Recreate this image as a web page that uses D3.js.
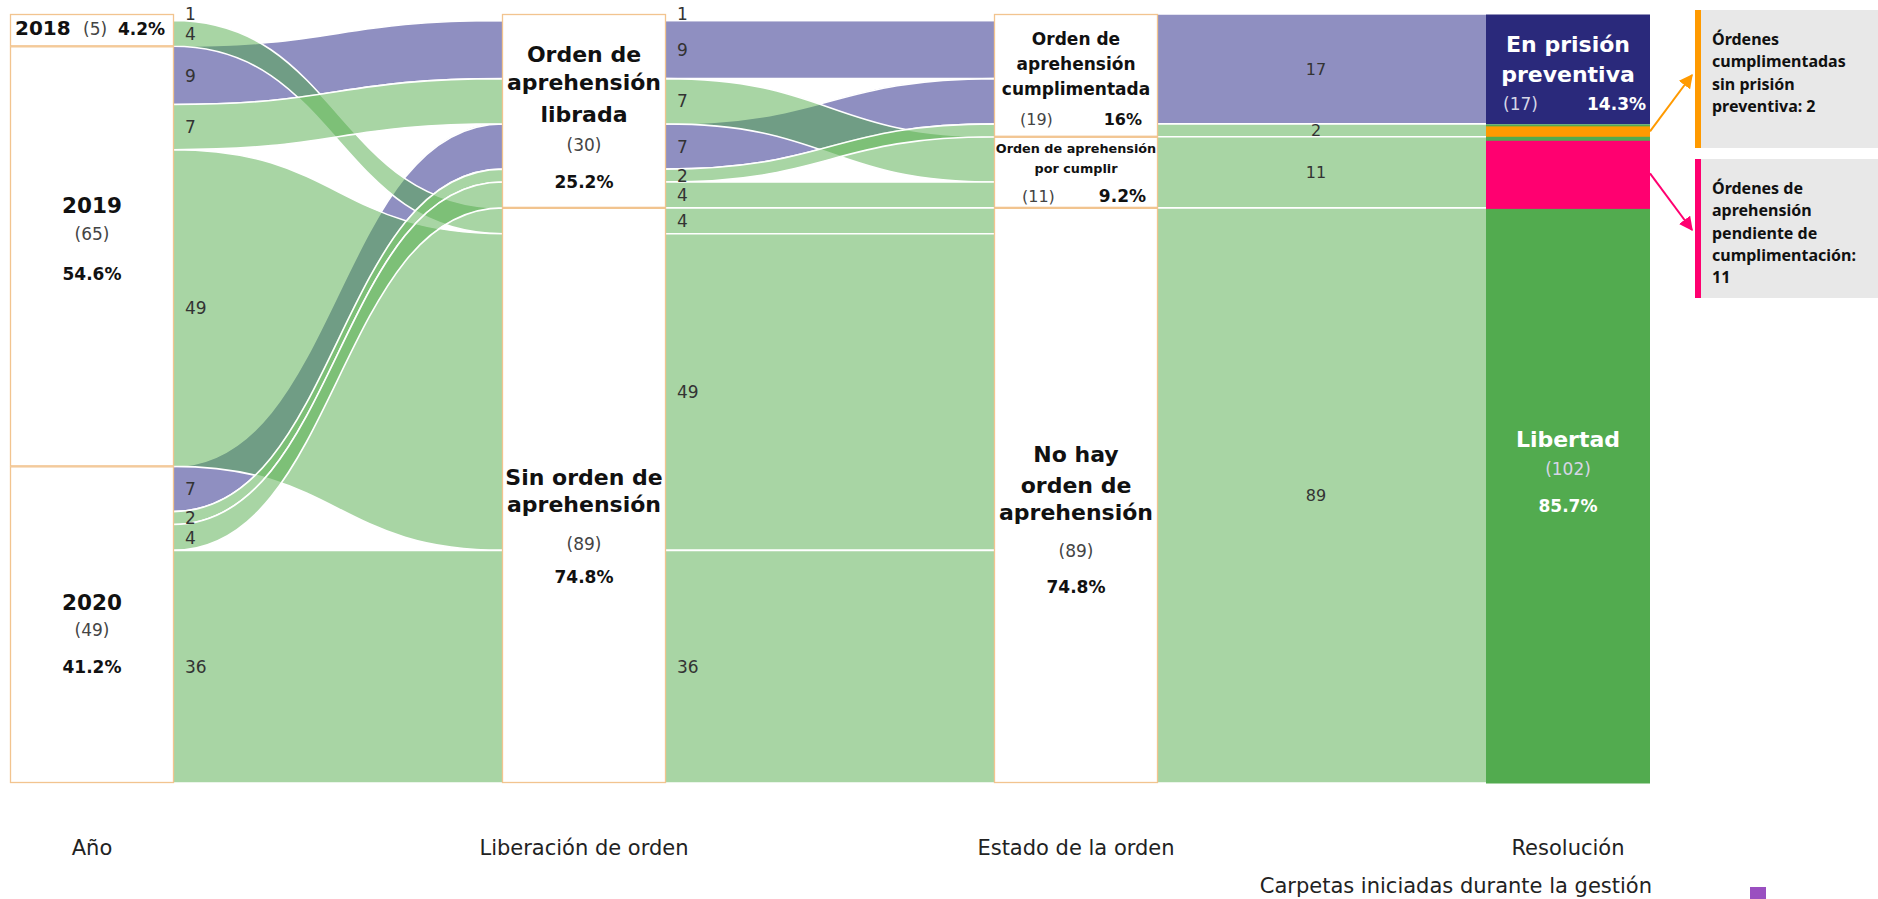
<!DOCTYPE html>
<html><head><meta charset="utf-8">
<script src="https://cdn.jsdelivr.net/npm/d3@7"></script>
<style>body{margin:0;background:#fff;} svg{display:block;}</style>
</head><body><svg id="chart" width="1878" height="899"></svg>
<script>
// ---------------- DATA ----------------
const stageTitles = ["Año", "Liberación de orden", "Estado de la orden", "Resolución"];
const subtitle = "Carpetas iniciadas durante la gestión";

const years = ["2018", "2019", "2020"];
const yearCounts = [5, 65, 49];
const yearShares = ["4.2%", "54.6%", "41.2%"];

const liberacion = ["Orden de aprehensión librada", "Sin orden de aprehensión"];
const liberacionCounts = [30, 89];
const liberacionShares = ["25.2%", "74.8%"];

const estado = ["Orden de aprehensión cumplimentada", "Orden de aprehensión por cumplir", "No hay orden de aprehensión"];
const estadoCounts = [19, 11, 89];
const estadoShares = ["16%", "9.2%", "74.8%"];

const resolucion = ["En prisión preventiva", "Libertad"];
const resolucionCounts = [17, 102];
const resolucionShares = ["14.3%", "85.7%"];

// flows: [source, target, value, kind]  (listed in stacking order)
const flowsAnioLiberacion = [
  ["2018", "Orden de aprehensión librada", 1, "blank"],
  ["2018", "Sin orden de aprehensión", 4, "green"],
  ["2019", "Orden de aprehensión librada", 9, "purple"],
  ["2019", "Orden de aprehensión librada", 7, "green"],
  ["2019", "Sin orden de aprehensión", 49, "green"],
  ["2020", "Orden de aprehensión librada", 7, "purple"],
  ["2020", "Orden de aprehensión librada", 2, "green"],
  ["2020", "Orden de aprehensión librada", 4, "green"],
  ["2020", "Sin orden de aprehensión", 36, "green"]
];
const flowsLiberacionEstado = [
  ["Orden de aprehensión librada", "Orden de aprehensión cumplimentada", 1, "blank"],
  ["Orden de aprehensión librada", "Orden de aprehensión cumplimentada", 9, "purple"],
  ["Orden de aprehensión librada", "Orden de aprehensión por cumplir", 7, "green"],
  ["Orden de aprehensión librada", "Orden de aprehensión cumplimentada", 7, "purple"],
  ["Orden de aprehensión librada", "Orden de aprehensión cumplimentada", 2, "green"],
  ["Orden de aprehensión librada", "Orden de aprehensión por cumplir", 4, "green"],
  ["Sin orden de aprehensión", "No hay orden de aprehensión", 4, "green"],
  ["Sin orden de aprehensión", "No hay orden de aprehensión", 49, "green"],
  ["Sin orden de aprehensión", "No hay orden de aprehensión", 36, "green"]
];
const flowsEstadoResolucion = [
  ["Orden de aprehensión cumplimentada", "En prisión preventiva", 17, "purple"],
  ["Orden de aprehensión cumplimentada", "Libertad", 2, "green"],
  ["Orden de aprehensión por cumplir", "Libertad", 11, "green"],
  ["No hay orden de aprehensión", "Libertad", 89, "green"]
];

const noteSinPrision = ["Órdenes", "cumplimentadas", "sin prisión", "preventiva: 2"];
const notePendientes = ["Órdenes de", "aprehensión", "pendiente de", "cumplimentación:", "11"];

// ---------------- LAYOUT / STYLE ----------------
const W = 1878, H = 899;
const svg = d3.select("#chart");
const FONT = "DejaVu Sans, sans-serif";
const total = d3.sum(yearCounts);
const y = d3.scaleLinear().domain([0, total]).range([14, 783]);
const x = d3.scaleLinear().domain([0, 3]).range([10, 1486]);
const nodeW = 164;

const colors = {
  purple: "#8f8fc1", green: "#51ab49", blank: "#ffffff",
  box: "#f2c48f", navy: "#2a297b", libertad: "#52ab4f",
  orange: "#ff9a00", pink: "#ff0070", note: "#e8e8e8"
};

const columns = [
  {names: years, counts: yearCounts, shares: yearShares},
  {names: liberacion, counts: liberacionCounts, shares: liberacionShares},
  {names: estado, counts: estadoCounts, shares: estadoShares},
  {names: resolucion, counts: resolucionCounts, shares: resolucionShares}
];

const nodes = new Map();
columns.forEach((c, i) => {
  let acc = 0;
  c.names.forEach((n, j) => {
    nodes.set(n, {name: n, col: i, value: c.counts[j], share: c.shares[j],
      v0: acc, v1: acc + c.counts[j], outAcc: acc, inAcc: acc});
    acc += c.counts[j];
  });
});

const links = [];
[flowsAnioLiberacion, flowsLiberacionEstado, flowsEstadoResolucion].forEach((arr, stage) => {
  arr.forEach(([s, t, v, kind]) => {
    const sn = nodes.get(s), tn = nodes.get(t);
    links.push({s: sn, t: tn, value: v, kind, stage, sv0: sn.outAcc, tv0: tn.inAcc});
    sn.outAcc += v; tn.inAcc += v;
  });
});

function linkPath(l) {
  const x0 = x(l.s.col) + nodeW - 1, x1 = x(l.t.col) + 1, xm = (x0 + x1) / 2;
  const a0 = y(l.sv0), b0 = y(l.sv0 + l.value), a1 = y(l.tv0), b1 = y(l.tv0 + l.value);
  const p = d3.path();
  p.moveTo(x0, a0); p.bezierCurveTo(xm, a0, xm, a1, x1, a1);
  p.lineTo(x1, b1); p.bezierCurveTo(xm, b1, xm, b0, x0, b0); p.closePath();
  return p.toString();
}

// ---------------- FLOWS ----------------
const order = {purple: 0, blank: 1, green: 2};
const gLinks = svg.append("g");
gLinks.selectAll("path")
  .data(links.slice().sort((a, b) => order[a.kind] - order[b.kind]))
  .join("path")
  .attr("d", linkPath)
  .attr("fill", d => colors[d.kind])
  .attr("fill-opacity", d => d.kind === "green" ? 0.5 : 1)
  .attr("stroke", "#fff")
  .attr("stroke-width", 1.6);

// flow value labels (thin single-unit bands nudged upward so they do not collide)
svg.append("g").selectAll("text")
  .data(links)
  .join("text")
  .attr("x", d => d.stage < 2 ? x(d.s.col) + nodeW + 11 : (x(d.s.col) + nodeW + x(d.t.col)) / 2 - 6)
  .attr("y", d => y(d.sv0 + d.value / 2) - (d.value === 1 ? 3 : 0))
  .attr("dy", "0.36em")
  .attr("text-anchor", d => d.stage < 2 ? "start" : "middle")
  .attr("font-family", FONT)
  .attr("font-size", d => d.stage < 2 ? 17 : 16)
  .attr("fill", "#333")
  .text(d => d.value);

// ---------------- NODES ----------------
const gNodes = svg.append("g");
gNodes.selectAll("rect")
  .data([...nodes.values()])
  .join("rect")
  .attr("x", d => x(d.col) + (d.col === 3 ? 0 : 0.5))
  .attr("y", d => y(d.v0) + 0.5)
  .attr("width", d => nodeW - (d.col === 3 ? 0 : 1))
  .attr("height", d => y(d.v1) - y(d.v0) - (d.col === 3 ? 0 : 1))
  .attr("fill", d => d.col < 3 ? "#fff" : (d.name === "Libertad" ? colors.libertad : colors.navy))
  .attr("stroke", d => d.col < 3 ? colors.box : "none")
  .attr("stroke-width", 1.3);

// highlight overlays on Libertad
const hlOrange = links.find(l => l.stage === 2 && l.s.name === estado[0] && l.t.name === "Libertad");
const hlPink = links.find(l => l.stage === 2 && l.s.name === estado[1]);
svg.append("rect").attr("x", x(3)).attr("width", nodeW)
  .attr("y", y(hlOrange.tv0) + 2.5).attr("height", y(hlOrange.tv0 + hlOrange.value) - y(hlOrange.tv0) - 2.5)
  .attr("fill", colors.orange);
svg.append("rect").attr("x", x(3)).attr("width", nodeW)
  .attr("y", y(hlPink.tv0) + 4).attr("height", y(hlPink.tv0 + hlPink.value) - y(hlPink.tv0) - 3)
  .attr("fill", colors.pink);

// ---------------- NODE LABELS ----------------
const labelStyle = {
  "2018": {mode: "inline", dy: 21},
  "2019": {title: ["2019"], size: 21.5, dys: [167], countDy: 194, shareDy: 234},
  "2020": {title: ["2020"], size: 21.5, dys: [144], countDy: 170, shareDy: 207},
  "Orden de aprehensión librada": {title: ["Orden de", "aprehensión", "librada"], size: 22, dys: [48, 76, 108], countDy: 137, shareDy: 174},
  "Sin orden de aprehensión": {title: ["Sin orden de", "aprehensión"], size: 22, dys: [277, 304], countDy: 342, shareDy: 375},
  "Orden de aprehensión cumplimentada": {title: ["Orden de", "aprehensión", "cumplimentada"], size: 17, dys: [31, 56, 81], pairDy: 111, cx: 26, sx: 16, countSize: 16, shareSize: 16},
  "Orden de aprehensión por cumplir": {title: ["Orden de aprehensión", "por cumplir"], size: 12.8, dys: [16, 36], pairDy: 65, cx: 28, sx: 12, countSize: 16, shareSize: 17},
  "No hay orden de aprehensión": {title: ["No hay", "orden de", "aprehensión"], size: 22, dys: [254, 285, 312], countDy: 349, shareDy: 385},
  "En prisión preventiva": {title: ["En prisión", "preventiva"], size: 22, dys: [38, 68], pairDy: 96, cx: 17, sx: 4, countSize: 17, shareSize: 17, light: true},
  "Libertad": {title: ["Libertad"], size: 22, dys: [323], countDy: 351, shareDy: 388, light: true}
};

const gLab = svg.append("g").attr("font-family", FONT);
nodes.forEach(n => {
  const st = labelStyle[n.name];
  const x0 = x(n.col), cx = x0 + nodeW / 2, top = y(n.v0);
  const tCol = st.light ? "#fff" : "#111";
  const cCol = st.light ? "#d6d6e6" : "#444";
  if (st.mode === "inline") {
    const t = gLab.append("text").attr("y", top + st.dy).attr("fill", "#111");
    t.append("tspan").attr("x", x0 + 5).attr("font-weight", "bold").attr("font-size", 20).text(n.name);
    t.append("tspan").attr("x", x0 + 73).attr("font-size", 17).attr("fill", "#444").text(`(${n.value})`);
    t.append("tspan").attr("x", x0 + 108).attr("font-weight", "bold").attr("font-size", 17).text(n.share);
    return;
  }
  st.title.forEach((line, i) => {
    gLab.append("text").attr("x", cx).attr("y", top + st.dys[i]).attr("text-anchor", "middle")
      .attr("font-weight", "bold").attr("font-size", st.size).attr("fill", tCol).text(line);
  });
  if (st.pairDy !== undefined) {
    gLab.append("text").attr("x", x0 + st.cx).attr("y", top + st.pairDy)
      .attr("font-size", st.countSize).attr("fill", cCol).text(`(${n.value})`);
    gLab.append("text").attr("x", x0 + nodeW - st.sx).attr("y", top + st.pairDy).attr("text-anchor", "end")
      .attr("font-weight", "bold").attr("font-size", st.shareSize).attr("fill", tCol).text(n.share);
  } else {
    gLab.append("text").attr("x", cx).attr("y", top + st.countDy).attr("text-anchor", "middle")
      .attr("font-size", 17).attr("fill", cCol).text(`(${n.value})`);
    gLab.append("text").attr("x", cx).attr("y", top + st.shareDy).attr("text-anchor", "middle")
      .attr("font-weight", "bold").attr("font-size", 17).attr("fill", tCol).text(n.share);
  }
});

// ---------------- STAGE TITLES ----------------
svg.append("g").selectAll("text").data(stageTitles).join("text")
  .attr("x", (d, i) => x(i) + nodeW / 2)
  .attr("y", 855)
  .attr("text-anchor", "middle")
  .attr("font-family", FONT)
  .attr("font-size", 21)
  .attr("fill", "#222")
  .text(d => d);
svg.append("text").attr("x", x(3) + nodeW + 2).attr("y", 893).attr("text-anchor", "end")
  .attr("font-family", FONT).attr("font-size", 21).attr("fill", "#222").text(subtitle);
svg.append("rect").attr("x", 1750).attr("y", 887).attr("width", 16).attr("height", 14).attr("fill", "#9a4fc0");

// ---------------- ANNOTATIONS ----------------
const defs = svg.append("defs");
[["arrO", colors.orange], ["arrP", colors.pink]].forEach(([id, c]) => {
  defs.append("marker").attr("id", id).attr("viewBox", "0 0 10 10").attr("refX", 9).attr("refY", 5)
    .attr("markerWidth", 7).attr("markerHeight", 7).attr("orient", "auto-start-reverse")
    .append("path").attr("d", "M0,0 L10,5 L0,10 z").attr("fill", c);
});

const notes = [
  {lines: noteSinPrision, color: colors.orange, y0: 10, y1: 148, link: hlOrange, toY: 75, marker: "arrO"},
  {lines: notePendientes, color: colors.pink, y0: 159, y1: 298, link: hlPink, toY: 230, marker: "arrP"}
];
const nx = 1695;
notes.forEach(n => {
  svg.append("rect").attr("x", nx).attr("y", n.y0).attr("width", W - nx).attr("height", n.y1 - n.y0).attr("fill", colors.note);
  svg.append("rect").attr("x", nx).attr("y", n.y0).attr("width", 6).attr("height", n.y1 - n.y0).attr("fill", n.color);
  const lineH = 22.3;
  const blockTop = n.y0 + 35;
  n.lines.forEach((ln, i) => {
    svg.append("text").attr("x", 1712).attr("y", blockTop + i * lineH)
      .attr("font-family", "Noto Sans, sans-serif").attr("font-weight", "bold").attr("font-size", 16)
      .attr("fill", "#111").text(ln);
  });
  const fy = (y(n.link.tv0) + y(n.link.tv0 + n.link.value)) / 2 + 1;
  svg.append("line").attr("x1", x(3) + nodeW).attr("y1", fy).attr("x2", nx - 3).attr("y2", n.toY)
    .attr("stroke", n.color).attr("stroke-width", 2).attr("marker-end", `url(#${n.marker})`);
});
</script>
</body></html>
